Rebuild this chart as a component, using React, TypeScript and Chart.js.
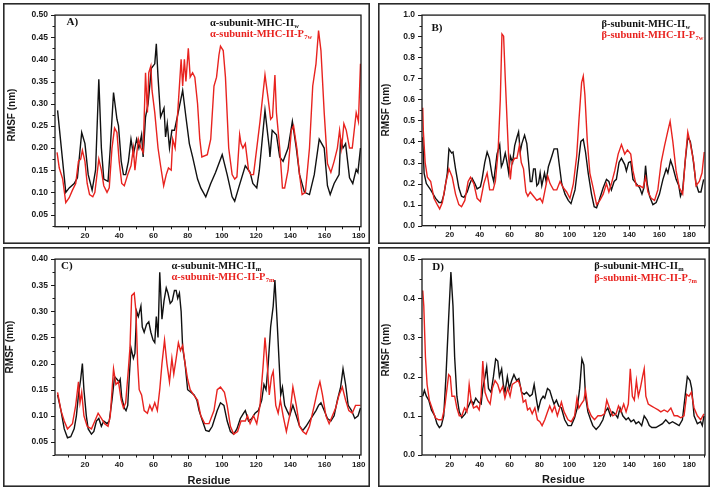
import React, { useEffect, useRef } from 'react';
import { Chart, registerables } from 'chart.js';
Chart.register(...registerables);

type Pt = [number, number];

// ---------- tick labels ----------
const X_TICKS = [20, 40, 60, 80, 100, 120, 140, 160, 180];
const Y_TICKS_A = [0.05, 0.1, 0.15, 0.2, 0.25, 0.3, 0.35, 0.4, 0.45, 0.5];
const Y_TICKS_B = [0, 0.1, 0.2, 0.3, 0.4, 0.5, 0.6, 0.7, 0.8, 0.9, 1.0];
const Y_TICKS_C = [0.05, 0.1, 0.15, 0.2, 0.25, 0.3, 0.35, 0.4];
const Y_TICKS_D = [0, 0.1, 0.2, 0.3, 0.4, 0.5];

// ---------- legend texts: [main, subscript] ----------
const LEG_A: [string, string][] = [['α-subunit-MHC-II', 'w'], ['α-subunit-MHC-II-P', '7w']];
const LEG_B: [string, string][] = [['β-subunit-MHC-II', 'w'], ['β-subunit-MHC-II-P', '7w']];
const LEG_C: [string, string][] = [['α-subunit-MHC-II', 'm'], ['α-subunit-MHC-II-P', '7m']];
const LEG_D: [string, string][] = [['β-subunit-MHC-II', 'm'], ['β-subunit-MHC-II-P', '7m']];

// ---------- data: [residue, RMSF nm] ----------
const A_W: Pt[] = [[4,0.285],[8.8,0.10],[10.8,0.11],[13.7,0.12],[15.6,0.133],[18.1,0.235],[20,0.21],[21.9,0.14],[24.2,0.105],[26.2,0.15],[28.1,0.355],[29.6,0.2],[31,0.13],[33.5,0.125],[34.8,0.2],[36.7,0.325],[38.7,0.265],[39.6,0.25],[41.2,0.17],[42.5,0.14],[43.8,0.14],[45.4,0.17],[46.9,0.22],[48.3,0.185],[50.2,0.22],[51.5,0.2],[53.1,0.23],[54,0.18],[55.4,0.27],[56.9,0.3],[58.8,0.38],[60.8,0.39],[61.7,0.435],[62.7,0.36],[64.2,0.27],[66.2,0.29],[67.1,0.225],[68.1,0.255],[69.4,0.2],[70.8,0.24],[72.3,0.24],[74.2,0.275],[77.1,0.33],[79,0.27],[81,0.21],[82.9,0.18],[85.8,0.13],[87.7,0.11],[90.6,0.09],[93.5,0.12],[96.3,0.145],[100.2,0.185],[103.1,0.14],[106,0.09],[107.5,0.08],[109.8,0.11],[113.7,0.16],[116.5,0.145],[118.1,0.12],[120.4,0.11],[121.9,0.15],[125.2,0.285],[127.7,0.2],[128.1,0.18],[129.4,0.24],[131.9,0.23],[133.8,0.18],[135.8,0.17],[138.7,0.2],[141.2,0.26],[143.5,0.2],[145.4,0.14],[148.3,0.10],[151.2,0.095],[154,0.14],[156.9,0.22],[159.8,0.2],[161.7,0.115],[163.3,0.095],[165.6,0.12],[168.5,0.14],[169.4,0.22],[170.8,0.2],[172.3,0.21],[174.6,0.133],[176.5,0.12],[178.5,0.152],[179.5,0.145],[181,0.2]];
const A_P: Pt[] = [[3.7,0.19],[5,0.155],[7,0.13],[8.8,0.077],[10.8,0.088],[12.7,0.105],[14.6,0.12],[16.2,0.17],[17.5,0.175],[18.5,0.195],[20,0.17],[21.3,0.12],[22.7,0.095],[24.6,0.09],[25.8,0.1],[28.1,0.175],[29.6,0.15],[31,0.115],[32.9,0.1],[34.2,0.11],[35.8,0.2],[37.3,0.245],[38.7,0.235],[40,0.17],[41.5,0.12],[43,0.115],[45,0.14],[46.9,0.16],[48.3,0.2],[49.2,0.15],[51.2,0.22],[52.7,0.2],[54,0.19],[55.4,0.37],[56.5,0.28],[57.3,0.37],[58.5,0.385],[59.2,0.33],[60.8,0.28],[62.7,0.2],[64.2,0.16],[66,0.115],[67.5,0.14],[68.8,0.155],[70.4,0.15],[71.3,0.22],[72.7,0.2],[74.2,0.28],[76.2,0.4],[77.1,0.34],[78.1,0.4],[79,0.35],[80.4,0.425],[81.5,0.36],[82.9,0.37],[84.2,0.36],[85.8,0.3],[87.1,0.22],[88.3,0.18],[91.5,0.185],[93.5,0.22],[95.4,0.34],[96.9,0.36],[98.3,0.41],[99.2,0.43],[100.8,0.42],[102.1,0.36],[104,0.2],[106,0.14],[107.5,0.13],[108.8,0.135],[110.4,0.23],[111.2,0.21],[112.3,0.2],[113.7,0.21],[115.6,0.15],[116.9,0.14],[118.5,0.14],[120.4,0.2],[122.3,0.26],[125.2,0.365],[127.1,0.31],[128.5,0.265],[129.6,0.27],[131,0.365],[131.9,0.28],[133.8,0.2],[135.4,0.11],[136.7,0.11],[138.7,0.15],[140.6,0.24],[141.9,0.25],[143.8,0.2],[145.4,0.14],[146.9,0.095],[148.8,0.1],[151.2,0.2],[153.1,0.34],[155,0.39],[156.5,0.465],[157.9,0.42],[159.8,0.28],[161.7,0.165],[163.7,0.145],[165.6,0.17],[167.5,0.2],[168.8,0.24],[170,0.2],[171.3,0.255],[172.7,0.24],[174.6,0.2],[176.2,0.2],[178.5,0.28],[179.8,0.26],[181,0.39]];

const B_W: Pt[] = [[2,0.42],[2.9,0.25],[4.4,0.2],[7.3,0.17],[10.6,0.13],[12.9,0.11],[14.6,0.11],[16.2,0.15],[18.4,0.25],[19.5,0.365],[21.3,0.345],[22.2,0.35],[23.9,0.27],[26.1,0.18],[27.9,0.14],[29.5,0.135],[31.7,0.16],[33.5,0.2],[35,0.225],[36.8,0.2],[38.3,0.175],[40.5,0.185],[41.6,0.22],[43.4,0.3],[45,0.35],[46.5,0.32],[48.3,0.24],[49.4,0.21],[51.6,0.34],[53.4,0.385],[54.5,0.28],[55.6,0.3],[57.1,0.345],[58.3,0.3],[59.4,0.25],[60.5,0.33],[62,0.3],[63.4,0.38],[64.9,0.42],[66,0.445],[67.1,0.35],[68.2,0.39],[70,0.43],[71.5,0.39],[72.7,0.3],[73.8,0.21],[74.9,0.21],[76,0.27],[77.1,0.27],[78.2,0.19],[79.3,0.2],[80.4,0.25],[81.5,0.19],[83.3,0.25],[84.4,0.21],[85.9,0.28],[88.2,0.33],[89.7,0.365],[91.9,0.365],[93,0.3],[94.8,0.2],[97,0.15],[99.2,0.12],[101,0.105],[103.7,0.17],[105.9,0.3],[107.6,0.4],[109.2,0.41],[110.7,0.35],[112.5,0.25],[114.7,0.15],[116.5,0.09],[118.1,0.085],[119.8,0.12],[122.5,0.18],[124.7,0.22],[126.3,0.21],[128,0.17],[129.8,0.21],[131.3,0.22],[133.1,0.3],[134.7,0.32],[136.9,0.29],[138,0.26],[139.5,0.3],[140.9,0.305],[142.4,0.22],[144.6,0.2],[146.9,0.18],[148.4,0.15],[149.7,0.18],[150.8,0.285],[151.9,0.2],[153.5,0.14],[155.7,0.1],[157.9,0.11],[160.1,0.15],[162.4,0.22],[164.6,0.27],[165.7,0.25],[167.5,0.31],[169,0.28],[171.2,0.22],[173,0.19],[174.1,0.14],[175.6,0.17],[177.2,0.3],[179,0.42],[180.7,0.4],[182.3,0.33],[184.5,0.2],[186.3,0.16],[187.8,0.16],[189.6,0.22]];
const B_P: Pt[] = [[2,0.56],[2.4,0.45],[3.6,0.3],[5.1,0.23],[7.3,0.21],[9.5,0.13],[11.7,0.1],[13.3,0.08],[15.1,0.11],[17.3,0.2],[19.5,0.27],[21.7,0.23],[23.9,0.15],[26.1,0.1],[27.9,0.09],[30.1,0.12],[32.3,0.21],[33.9,0.23],[36.1,0.2],[38.3,0.13],[40.5,0.115],[42.8,0.2],[45,0.25],[46.7,0.17],[49,0.17],[50.5,0.21],[52.3,0.35],[53.8,0.6],[54.9,0.91],[56,0.9],[57.1,0.7],[58.3,0.5],[59.4,0.32],[60.5,0.22],[61.6,0.3],[63.4,0.32],[64.9,0.32],[66.5,0.38],[67.8,0.3],[69.3,0.27],[70.9,0.16],[72.2,0.14],[73.8,0.16],[76,0.14],[78.2,0.12],[80.4,0.13],[82,0.11],[83.7,0.17],[85.5,0.235],[87,0.2],[89.3,0.17],[91.5,0.17],[93.7,0.21],[95.9,0.18],[98.1,0.16],[100.3,0.13],[102.6,0.2],[104.8,0.33],[106.3,0.5],[108.1,0.68],[109.2,0.71],[110.3,0.62],[111.9,0.4],[113.6,0.25],[115.8,0.18],[118.1,0.1],[120.3,0.12],[122.5,0.15],[124.7,0.2],[126.3,0.16],[128,0.2],[130.2,0.26],[132.5,0.34],[134.7,0.385],[136.9,0.34],[138.7,0.36],[140.9,0.34],[142.4,0.26],[144.6,0.19],[146.9,0.19],[149.1,0.18],[150.8,0.23],[152.4,0.16],[154.6,0.13],[156.8,0.12],[159,0.17],[161.2,0.3],[163.5,0.38],[165.7,0.45],[167.2,0.495],[169,0.4],[171.2,0.26],[173.4,0.18],[175.6,0.15],[177.4,0.32],[179,0.445],[180.7,0.39],[183,0.3],[184.5,0.19],[186.7,0.21],[188.5,0.25],[190,0.35]];

const C_W: Pt[] = [[4,0.14],[6,0.11],[7.9,0.075],[9.8,0.058],[11.7,0.06],[13.7,0.075],[15,0.1],[16.2,0.14],[17.5,0.17],[18.5,0.2],[19.4,0.15],[20.8,0.1],[21.9,0.075],[23.8,0.065],[25.2,0.07],[26.7,0.09],[28.1,0.095],[29.6,0.08],[31,0.09],[32.9,0.085],[34.2,0.09],[35.8,0.13],[37.3,0.175],[38.7,0.17],[40,0.165],[40.6,0.17],[41.5,0.135],[43,0.115],[44,0.11],[45,0.12],[46,0.18],[46.9,0.23],[48.3,0.21],[49.2,0.22],[50.2,0.3],[51.2,0.29],[52.7,0.31],[53.5,0.27],[54.6,0.26],[56,0.275],[57.3,0.28],[58.5,0.26],[59.8,0.245],[60.8,0.24],[61.7,0.29],[62.7,0.25],[63.7,0.375],[65,0.285],[66.2,0.32],[67.5,0.345],[68.5,0.335],[69.8,0.315],[71,0.32],[72.3,0.34],[73.3,0.34],[74.2,0.325],[75.2,0.335],[76.2,0.3],[77.1,0.23],[78.5,0.2],[80,0.15],[81.9,0.145],[83.8,0.14],[85.4,0.13],[86.7,0.11],[88.7,0.09],[90.6,0.072],[92.5,0.07],[94.4,0.08],[97.3,0.11],[99.2,0.125],[101.2,0.12],[103.1,0.09],[105,0.07],[106.9,0.065],[108.8,0.075],[110.8,0.095],[112.7,0.105],[113.7,0.11],[115.6,0.09],[117.5,0.095],[119.4,0.105],[121.3,0.11],[123.3,0.13],[124.6,0.16],[125.8,0.15],[127.1,0.2],[128.5,0.27],[130,0.31],[131,0.36],[132.3,0.28],[133.5,0.2],[134.4,0.14],[135.4,0.155],[136.7,0.12],[138.1,0.11],[139.6,0.1],[141.5,0.12],[143.5,0.1],[145.4,0.08],[147.3,0.072],[149.2,0.08],[152.1,0.095],[155,0.11],[156.5,0.12],[157.9,0.125],[159.8,0.11],[161.7,0.095],[163.7,0.09],[165.6,0.1],[167.5,0.13],[169.4,0.155],[170.8,0.19],[172.3,0.16],[173.8,0.12],[175.8,0.11],[177.7,0.095],[179.6,0.1],[181,0.115]];
const C_P: Pt[] = [[4,0.145],[6,0.11],[7.9,0.09],[9.8,0.075],[12.7,0.085],[14.6,0.12],[16.2,0.165],[17.1,0.125],[18.1,0.145],[19.4,0.1],[21.3,0.08],[23.8,0.075],[25.8,0.09],[27.7,0.105],[29.6,0.095],[31.5,0.085],[33.5,0.08],[34.8,0.1],[36.7,0.19],[38.1,0.16],[39.6,0.165],[41.2,0.13],[42.5,0.115],[43.8,0.125],[45.4,0.19],[46.3,0.23],[47.3,0.33],[48.8,0.335],[49.8,0.3],[50.8,0.2],[51.7,0.15],[53.1,0.14],[54.6,0.11],[56.5,0.105],[57.9,0.12],[59.2,0.11],[60.8,0.125],[62.3,0.11],[63.7,0.15],[65,0.2],[66.5,0.245],[67.9,0.2],[69.4,0.165],[70.8,0.21],[71.9,0.18],[73.3,0.21],[74.6,0.24],[75.8,0.225],[77.1,0.235],[78.5,0.2],[80,0.17],[81.5,0.15],[83.5,0.14],[85.8,0.13],[87.7,0.1],[90,0.085],[92.5,0.085],[95.4,0.11],[97.3,0.15],[99.2,0.155],[101.5,0.145],[103.1,0.12],[105,0.08],[106.9,0.065],[109.2,0.07],[111.2,0.09],[113.7,0.09],[115,0.1],[116.5,0.085],[118.5,0.1],[120.4,0.085],[122.3,0.12],[124.2,0.2],[125.2,0.25],[126.5,0.2],[127.7,0.14],[129,0.175],[130,0.185],[131.5,0.12],[132.9,0.105],[134.2,0.13],[135.8,0.1],[137.7,0.07],[139.6,0.1],[141.5,0.155],[143.5,0.12],[145.4,0.08],[147.3,0.07],[149.2,0.065],[151.2,0.08],[154,0.12],[156,0.15],[157.3,0.165],[158.8,0.14],[160.8,0.1],[162.7,0.085],[164.6,0.1],[166.5,0.115],[168.5,0.14],[170.4,0.155],[172.3,0.13],[174.2,0.11],[176.2,0.105],[178.1,0.12],[181,0.12]];

const D_W: Pt[] = [[2,0.15],[3.1,0.165],[4.4,0.15],[6,0.14],[7.8,0.115],[10,0.1],[11.5,0.08],[13.1,0.07],[14.4,0.075],[16,0.1],[17.5,0.2],[19.3,0.35],[20.8,0.467],[22.2,0.38],[23.3,0.25],[24.8,0.15],[26.4,0.11],[28.1,0.095],[30.3,0.105],[32.6,0.125],[34.3,0.14],[35.9,0.13],[37.4,0.145],[39.2,0.135],[41,0.13],[42.1,0.17],[43.6,0.2],[44.7,0.225],[45.9,0.17],[47.6,0.16],[49.2,0.2],[50.7,0.245],[52.1,0.24],[53.2,0.2],[54.7,0.22],[55.8,0.18],[56.9,0.16],[58.5,0.2],[59.8,0.17],[61.4,0.19],[62.9,0.205],[64.7,0.19],[66.2,0.195],[68,0.16],[69.8,0.155],[71.3,0.16],[73.5,0.15],[75.1,0.155],[76.4,0.18],[78,0.14],[79.1,0.115],[80.8,0.14],[82.4,0.15],[83.5,0.145],[85.3,0.17],[86.8,0.165],[88.4,0.145],[89.7,0.13],[91.3,0.14],[92.8,0.125],[94.6,0.12],[96.8,0.09],[99,0.075],[101.2,0.075],[103.4,0.095],[105.2,0.12],[106.8,0.17],[108.3,0.245],[109.6,0.23],[110.7,0.15],[112.3,0.11],[114.1,0.09],[115.6,0.075],[117.8,0.065],[120.1,0.075],[122.3,0.09],[123.8,0.11],[125.6,0.12],[127.4,0.1],[128.9,0.11],[130.5,0.105],[132.2,0.095],[133.8,0.12],[135.6,0.1],[137.8,0.09],[139.3,0.095],[141.1,0.085],[142.9,0.09],[144.4,0.08],[146.2,0.085],[148.2,0.075],[149.9,0.1],[151.7,0.09],[153.3,0.075],[155,0.07],[157.7,0.07],[159.9,0.075],[162.1,0.08],[164.3,0.09],[166.6,0.08],[168.8,0.085],[171,0.08],[173.2,0.075],[175.4,0.09],[177.2,0.15],[178.7,0.2],[180.5,0.19],[181.6,0.17],[183.2,0.1],[185.4,0.08],[187.6,0.085],[188.7,0.075],[189.8,0.1]];
const D_P: Pt[] = [[2,0.42],[2.7,0.38],[3.8,0.25],[4.9,0.18],[6.4,0.14],[8.2,0.12],[10.4,0.095],[12.6,0.09],[14.8,0.09],[16.6,0.12],[18.2,0.17],[19.3,0.205],[20.4,0.2],[21.5,0.15],[23.3,0.15],[24.8,0.12],[26.4,0.1],[28.1,0.1],[29.9,0.12],[31.5,0.11],[33,0.18],[34.3,0.14],[35.9,0.12],[38.1,0.125],[39.7,0.115],[41,0.15],[42.1,0.24],[43.6,0.16],[45.4,0.14],[47,0.13],[48.5,0.17],[50.3,0.19],[52.1,0.18],[53.6,0.16],[55.4,0.175],[56.9,0.145],[58.7,0.17],[60.3,0.15],[61.8,0.18],[63.6,0.185],[65.8,0.19],[67.6,0.17],[69.1,0.135],[70.7,0.14],[72,0.115],[73.5,0.12],[75.1,0.105],[76.9,0.12],[78.6,0.09],[80.2,0.085],[81.7,0.075],[83.5,0.09],[85.3,0.11],[86.8,0.125],[88.4,0.11],[90.1,0.125],[91.9,0.1],[93.5,0.12],[94.6,0.135],[96.4,0.11],[99,0.09],[101.2,0.085],[103.4,0.1],[105,0.145],[106.3,0.12],[107.8,0.13],[109.6,0.14],[110.7,0.165],[112.3,0.12],[114.5,0.1],[116.7,0.09],[119,0.1],[121.2,0.1],[123.4,0.105],[124.9,0.14],[126.7,0.12],[128.9,0.1],[131.1,0.105],[132.7,0.125],[134.4,0.11],[136.2,0.13],[137.8,0.11],[139.3,0.13],[140.6,0.22],[142,0.15],[143.3,0.14],[144.7,0.19],[146,0.15],[147.3,0.17],[148.8,0.2],[149.9,0.22],[151,0.15],[152.6,0.13],[154.8,0.125],[157,0.12],[159.2,0.115],[161,0.11],[163.2,0.115],[165.5,0.11],[167.7,0.12],[169.9,0.1],[172.1,0.1],[174.3,0.095],[176.5,0.1],[178.3,0.155],[179.8,0.15],[181.4,0.16],[183.2,0.12],[185.4,0.1],[187.6,0.09],[189.8,0.105]];

// ---------- layout / style ----------
const BLACK = '#111111';
const RED = '#e8231f';
const AXIS = '#1a1a1a';
const SANS = '"Liberation Sans", Arial, sans-serif';
const SERIF = '"Liberation Serif", "Times New Roman", serif';

interface Spec {
  box: { left: number; top: number; w: number; h: number };
  plot: { l: number; t: number; r: number; b: number };
  xMin: number; xMax: number;
  yMin: number; yMax: number;
  yTicks: number[]; yDec: number;
  black: Pt[]; red: Pt[];
  tag: string; tagX: number; tagY: number;
  legend: [string, string][]; legX: number; legY1: number; legY2: number;
  titleX: number; titleY: number;
  residue: boolean; residueX: number; residueY: number;
}

const SPECS: Spec[] = [
  {
    box: { left: 3, top: 3, w: 367, h: 241 },
    plot: { l: 52, t: 8.7, r: 359, b: 223.7 },
    xMin: 2.5, xMax: 181.3, yMin: 0.0225, yMax: 0.5, yTicks: Y_TICKS_A, yDec: 2,
    black: A_W, red: A_P,
    tag: 'A)', tagX: 63.5, tagY: 22,
    legend: LEG_A, legX: 207, legY1: 22.5, legY2: 34,
    titleX: 9, titleY: 112,
    residue: false, residueX: 0, residueY: 0,
  },
  {
    box: { left: 378, top: 3, w: 332, h: 241 },
    plot: { l: 44, t: 8.7, r: 327, b: 222.7 },
    xMin: 1.5, xMax: 190.5, yMin: 0, yMax: 1.0, yTicks: Y_TICKS_B, yDec: 1,
    black: B_W, red: B_P,
    tag: 'B)', tagX: 53.5, tagY: 27.5,
    legend: LEG_B, legX: 223.5, legY1: 24, legY2: 35,
    titleX: 8.7, titleY: 107,
    residue: false, residueX: 0, residueY: 0,
  },
  {
    box: { left: 3, top: 247, w: 367, h: 240 },
    plot: { l: 52, t: 8, r: 359, b: 208 },
    xMin: 2.5, xMax: 181.3, yMin: 0.025, yMax: 0.4, yTicks: Y_TICKS_C, yDec: 2,
    black: C_W, red: C_P,
    tag: 'C)', tagX: 58, tagY: 22,
    legend: LEG_C, legX: 168.5, legY1: 21.5, legY2: 32.5,
    titleX: 7.5, titleY: 100,
    residue: true, residueX: 206, residueY: 233.5,
  },
  {
    box: { left: 378, top: 247, w: 332, h: 240 },
    plot: { l: 44, t: 8, r: 327, b: 208 },
    xMin: 1.5, xMax: 190.5, yMin: 0, yMax: 0.5, yTicks: Y_TICKS_D, yDec: 1,
    black: D_W, red: D_P,
    tag: 'D)', tagX: 54.3, tagY: 23,
    legend: LEG_D, legX: 216.3, legY1: 21.5, legY2: 34,
    titleX: 8.7, titleY: 103,
    residue: true, residueX: 185.5, residueY: 233,
  },
];

function drawRich(ctx: CanvasRenderingContext2D, x: number, y: number, main: string, sub: string, color: string) {
  ctx.fillStyle = color;
  ctx.textAlign = 'left';
  ctx.textBaseline = 'alphabetic';
  ctx.font = `bold 10.5px ${SERIF}`;
  ctx.fillText(main, x, y);
  const w = ctx.measureText(main).width;
  ctx.font = `bold 6.5px ${SERIF}`;
  ctx.fillText(sub, x + w + 0.3, y + 2);
}

function Panel({ spec }: { spec: Spec }) {
  const ref = useRef<HTMLCanvasElement | null>(null);
  useEffect(() => {
    const canvas = ref.current;
    if (!canvas) return;
    const { w: W, h: H } = spec.box;
    const { l, t, r, b } = spec.plot;
    const yStep = spec.yTicks[1] - spec.yTicks[0];

    const decor = {
      id: 'decor' + spec.tag,
      afterDraw(chart: any) {
        const ctx: CanvasRenderingContext2D = chart.ctx;
        const area = chart.chartArea;
        const xs = chart.scales.x;
        const ys = chart.scales.y;
        ctx.save();
        ctx.strokeStyle = '#2a2a2a';
        ctx.lineWidth = 1.6;
        ctx.strokeRect(0.8, 0.8, W - 1.6, H - 1.6);
        ctx.strokeStyle = AXIS;
        ctx.lineWidth = 1.3;
        ctx.strokeRect(area.left, area.top, area.right - area.left, area.bottom - area.top);
        ctx.lineWidth = 1;
        ctx.beginPath();
        for (let v = 10; v <= spec.xMax; v += 10) {
          if (v < spec.xMin) continue;
          const px = Math.round(xs.getPixelForValue(v)) + 0.5;
          const len = v % 20 === 0 ? 4 : 2.5;
          ctx.moveTo(px, area.bottom);
          ctx.lineTo(px, area.bottom + len);
        }
        for (const v of spec.yTicks) {
          const py = Math.round(ys.getPixelForValue(v)) + 0.5;
          ctx.moveTo(area.left - 4, py);
          ctx.lineTo(area.left, py);
          const m = v - yStep / 2;
          if (m >= spec.yMin - 1e-9) {
            const pm = Math.round(ys.getPixelForValue(m)) + 0.5;
            ctx.moveTo(area.left - 2.5, pm);
            ctx.lineTo(area.left, pm);
          }
        }
        ctx.stroke();
        ctx.fillStyle = AXIS;
        ctx.font = `bold 10px ${SANS}`;
        ctx.textAlign = 'center';
        ctx.textBaseline = 'middle';
        ctx.save();
        ctx.translate(spec.titleX, spec.titleY);
        ctx.rotate(-Math.PI / 2);
        ctx.fillText('RMSF (nm)', 0, 0);
        ctx.restore();
        if (spec.residue) {
          ctx.font = `bold 11px ${SANS}`;
          ctx.fillText('Residue', spec.residueX, spec.residueY);
        }
        ctx.font = `bold 11px ${SERIF}`;
        ctx.textAlign = 'left';
        ctx.textBaseline = 'alphabetic';
        ctx.fillStyle = '#111';
        ctx.fillText(spec.tag, spec.tagX, spec.tagY);
        drawRich(ctx, spec.legX, spec.legY1, spec.legend[0][0], spec.legend[0][1], BLACK);
        drawRich(ctx, spec.legX, spec.legY2, spec.legend[1][0], spec.legend[1][1], RED);
        ctx.restore();
      },
    };

    const chart = new Chart(canvas, {
      type: 'line',
      data: {
        datasets: [
          {
            label: spec.legend[1][0] + spec.legend[1][1],
            data: spec.red.map(([x, y]) => ({ x, y })),
            borderColor: RED,
            borderWidth: 1.4,
            pointRadius: 0,
            tension: 0,
            fill: false,
          },
          {
            label: spec.legend[0][0] + spec.legend[0][1],
            data: spec.black.map(([x, y]) => ({ x, y })),
            borderColor: BLACK,
            borderWidth: 1.4,
            pointRadius: 0,
            tension: 0,
            fill: false,
          },
        ],
      },
      options: {
        animation: false,
        responsive: false,
        maintainAspectRatio: false,
        devicePixelRatio: 1,
        layout: { padding: { left: 0, top: t, right: W - r, bottom: 0 } },
        plugins: { legend: { display: false }, tooltip: { enabled: false } },
        scales: {
          x: {
            type: 'linear',
            min: spec.xMin,
            max: spec.xMax,
            grid: { display: false, drawTicks: false },
            border: { display: false },
            afterBuildTicks: (s: any) => { s.ticks = X_TICKS.map((v) => ({ value: v })); },
            afterFit: (s: any) => { s.height = H - b; },
            ticks: {
              autoSkip: false,
              maxRotation: 0,
              padding: 4.5,
              color: AXIS,
              font: { family: SANS, size: 8, weight: 'bold' },
              callback: (v: any) => String(v),
            },
          },
          y: {
            type: 'linear',
            min: spec.yMin,
            max: spec.yMax,
            grid: { display: false, drawTicks: false },
            border: { display: false },
            afterBuildTicks: (s: any) => { s.ticks = spec.yTicks.map((v) => ({ value: v })); },
            afterFit: (s: any) => { s.width = l; },
            ticks: {
              autoSkip: false,
              padding: 7,
              color: AXIS,
              font: { family: SANS, size: 8.5, weight: 'bold' },
              callback: (v: any) => Number(v).toFixed(spec.yDec),
            },
          },
        },
      } as any,
      plugins: [decor],
    });
    return () => chart.destroy();
  }, [spec]);

  return (
    <canvas
      ref={ref}
      width={spec.box.w}
      height={spec.box.h}
      style={{ position: 'absolute', left: spec.box.left, top: spec.box.top, width: spec.box.w, height: spec.box.h }}
    />
  );
}

export default function App() {
  return (
    <div style={{ position: 'absolute', left: 0, top: 0, width: 713, height: 490, background: '#ffffff', overflow: 'hidden' }}>
      {SPECS.map((s) => (
        <Panel key={s.tag} spec={s} />
      ))}
    </div>
  );
}
